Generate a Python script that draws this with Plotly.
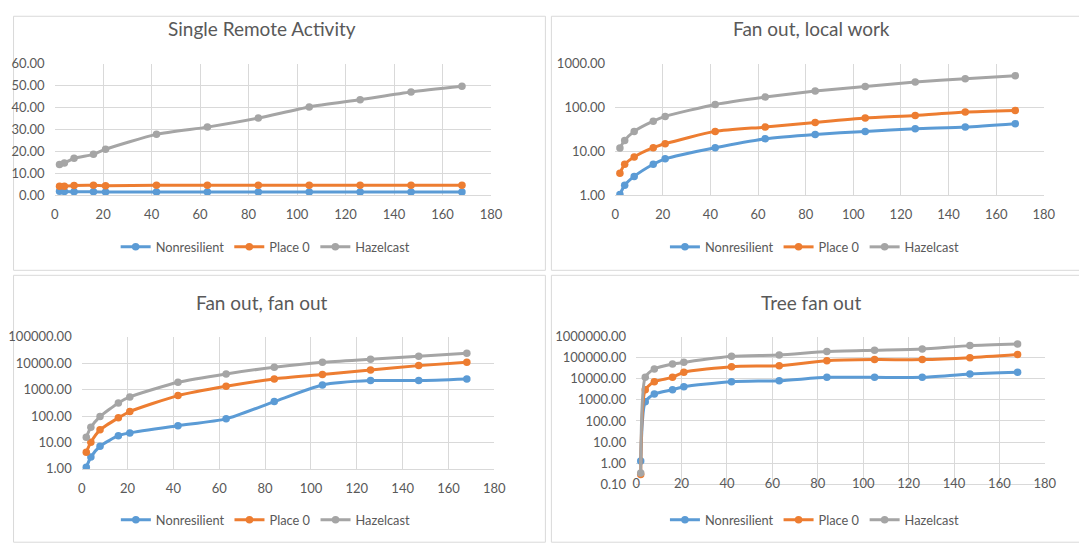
import plotly.graph_objects as go

# ---- data ----
x_vals = [2, 4, 8, 16, 21, 42, 63, 84, 105, 126, 147, 168]
series_names = ["Nonresilient", "Place 0", "Hazelcast"]

single_nonres = [1.9, 1.7, 1.6, 1.6, 1.5, 1.5, 1.5, 1.5, 1.5, 1.5, 1.5, 1.5]
single_place0 = [4.1, 4.2, 4.5, 4.6, 4.4, 4.6, 4.6, 4.6, 4.6, 4.6, 4.6, 4.6]
single_hazel = [14.1, 14.7, 16.9, 18.7, 21.0, 27.8, 31.1, 35.2, 40.3, 43.6, 47.1, 49.7]

local_nonres = [1.05, 1.7, 2.7, 5.1, 6.8, 12.2, 19.5, 24.5, 28.7, 33, 36, 43]
local_place0 = [3.2, 5.1, 7.5, 12.2, 15, 28.7, 36, 46, 58, 66, 79, 86]
local_hazel = [12, 17.9, 28.7, 49, 63, 118, 174, 238, 304, 381, 455, 532]

fan_nonres = [1.16, 2.8, 7.2, 18, 23, 43, 78, 350, 1490, 2180, 2180, 2510]
fan_place0 = [4.3, 10.2, 30, 85, 147, 590, 1330, 2510, 3660, 5500, 8000, 10700]
fan_hazel = [15.7, 37.5, 95, 312, 525, 1880, 3880, 6930, 10700, 13900, 18100, 23400]

tree_nonres = [1.25, 820, 1890, 3040, 4220, 7270, 8100, 11700, 11700, 11700, 17000, 20400]
tree_place0 = [0.29, 3040, 7270, 11700, 20400, 37600, 42000, 72000, 81000, 81000, 100000, 141000]
tree_hazel = [0.34, 11700, 29000, 50000, 60000, 116000, 134000, 194000, 224000, 259000, 373000, 445000]

titles = ["Single Remote Activity", "Fan out, local work", "Fan out, fan out", "Tree fan out"]
x_ticks = [0, 20, 40, 60, 80, 100, 120, 140, 160, 180]

panels = [
    [single_nonres, single_place0, single_hazel],
    [local_nonres, local_place0, local_hazel],
    [fan_nonres, fan_place0, fan_hazel],
    [tree_nonres, tree_place0, tree_hazel],
]

# ---- styling ----
W, H = 1087, 544
colors = ["#5B9BD5", "#ED7D31", "#A5A5A5"]
grid = "#D9D9D9"
txt = "#595959"
FONT = "Lato"

# calibration of rendered picture: shown = a + k * figure_px
AX, KX = 14.07, 0.9835
AY, KY = 15.57, 0.971

def clamp(v, lo=0.0005, hi=0.9995):
    return max(lo, min(hi, v))

def px_x(p):
    return ((p - AX) / KX) / W

def px_y(p):
    return 1 - ((p - AY) / KY) / H

# plot areas in target pixels: (left, right, top, bottom)
areas = [
    (55.7, 491.7, 63.3, 195.0),
    (615.7, 1044.0, 63.3, 195.0),
    (82.7, 495.0, 336.3, 468.7),
    (636.7, 1045.0, 336.3, 484.0),
]
yconf = [
    dict(type="linear", range=[0, 60], dtick=10),
    dict(type="log", range=[0, 3], dtick=1),
    dict(type="log", range=[0, 5], dtick=1),
    dict(type="log", range=[-1, 6], dtick=1),
]
title_pos = [(263.3, 28), (811.7, 28), (263.3, 302), (811.7, 302)]
legend_pos = [(266.5, 246.7), (815.3, 246.7), (266.7, 519.7), (815.3, 519.7)]
borders = [(5, 546, 2, 270), (552, 1084, 2, 270), (5, 546, 275, 542), (552, 1084, 275, 542)]

fig = go.Figure()
layout = dict(
    width=W, height=H, autosize=False,
    margin=dict(l=0, r=0, t=0, b=0),
    paper_bgcolor="white", plot_bgcolor="white",
    font=dict(family=FONT, color=txt, size=12),
    annotations=[], shapes=[],
)

for i, (data, area) in enumerate(zip(panels, areas)):
    ax = "" if i == 0 else str(i + 1)
    leg = "legend" if i == 0 else f"legend{i + 1}"
    for name, vals, c in zip(series_names, data, colors):
        fig.add_trace(go.Scatter(
            x=x_vals, y=vals, name=name, mode="lines+markers",
            line=dict(color=c, width=3, shape="spline", smoothing=0.6),
            marker=dict(color=c, size=7.5),
            xaxis="x" + ax, yaxis="y" + ax, legend=leg,
        ))
    l, r, t, b = area
    layout["xaxis" + ax] = dict(
        domain=[px_x(l), px_x(r)], anchor="y" + ax, range=[0, 180],
        tickvals=x_ticks, showgrid=True, gridcolor=grid, gridwidth=1,
        showline=True, linecolor=grid, linewidth=1, zeroline=False,
        ticks="", tickfont=dict(size=13, color=txt, family=FONT),
        ticklabelstandoff=(-13 if i == 3 else 7),
        fixedrange=True,
    )
    yc = yconf[i]
    layout["yaxis" + ax] = dict(
        domain=[px_y(b), px_y(t)], anchor="x" + ax,
        type=yc["type"], range=yc["range"], dtick=yc["dtick"],
        tickformat=".2f", showgrid=True, gridcolor=grid, gridwidth=1,
        showline=False, zeroline=False, ticks="",
        tickfont=dict(size=13, color=txt, family=FONT),
        ticklabelstandoff=9, fixedrange=True,
    )
    tx, ty = title_pos[i]
    layout["annotations"].append(dict(
        text=titles[i], x=px_x(tx), y=px_y(ty), xref="paper", yref="paper",
        showarrow=False, xanchor="center", yanchor="middle",
        font=dict(size=19, color=txt, family=FONT),
    ))
    lx, ly = legend_pos[i]
    layout[leg] = dict(
        orientation="h", x=px_x(lx), y=px_y(ly), xanchor="center", yanchor="middle",
        font=dict(size=12.8, color=txt, family=FONT), bgcolor="rgba(0,0,0,0)",
        itemclick=False, itemdoubleclick=False, tracegroupgap=0,
    )
    bx0, bx1, by0, by1 = borders[i]
    layout["shapes"].append(dict(
        type="rect", xref="paper", yref="paper",
        x0=clamp(px_x(bx0)), x1=clamp(px_x(bx1)),
        y0=clamp(px_y(by1)), y1=clamp(px_y(by0)),
        line=dict(color=grid, width=1), fillcolor="rgba(0,0,0,0)", layer="below",
    ))

fig.update_layout(**layout)
fig.write_html("out.html")
